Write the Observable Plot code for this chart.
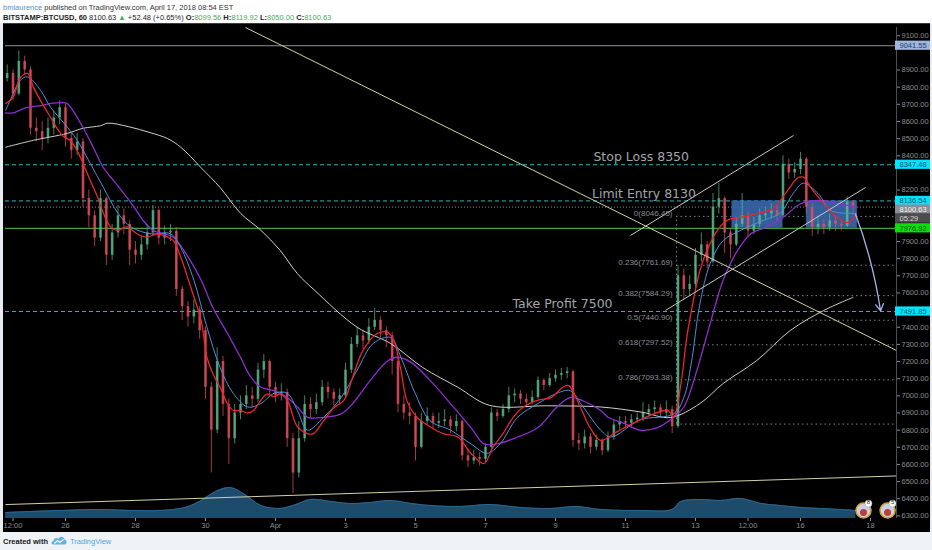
<!DOCTYPE html>
<html><head><meta charset="utf-8">
<script src="https://cdn.jsdelivr.net/npm/d3@7"></script>
<script src="https://cdn.jsdelivr.net/npm/@observablehq/plot@0.6"></script>
<style>
html,body{margin:0;padding:0;width:932px;height:550px;overflow:hidden;background:#f0f3f6;font-family:"Liberation Sans",Arial,sans-serif}
#header{position:relative;width:932px;height:23px;background:#fff}
.hl{position:absolute;left:3px;font-size:7.5px;color:#333;white-space:nowrap}
#h1{top:2.5px}
#h2{top:13px;color:#222}
.g{color:#3fae5a}
#chart{position:relative;width:932px;height:509px;background:#000;border-top:1px solid #3a3d44;box-sizing:border-box;overflow:hidden}
#chart svg{display:block;max-width:none}
#vol{position:absolute;left:0;top:0;width:932px;height:508px;z-index:0}
#main{position:absolute;left:0;top:0;width:932px;height:508px;z-index:1}
#edgeL{position:absolute;left:0;top:23px;width:3px;height:509px;background:#e8ebf0;z-index:5}
#edgeR{position:absolute;left:930px;top:23px;width:2px;height:509px;background:#e8ebf0;z-index:5}
#footer{position:relative;width:932px;height:18px;background:#f0f3f6}
#footer .c{position:absolute;left:3px;top:4.5px;font-size:7.5px;font-weight:bold;color:#131722}
#footer .t{position:absolute;left:70px;top:4.5px;font-size:7.5px;color:#4aa3df}
#footer .logo{position:absolute;left:51px;top:3px}
</style></head>
<body>
<div id="header"><div id="h1" class="hl"></div><div id="h2" class="hl"></div></div>
<div id="chart"><div id="vol"></div><div id="main"></div></div>
<div id="edgeL"></div><div id="edgeR"></div>
<div id="footer"><span class="c">Created with</span>
<svg class="logo" width="17" height="11" viewBox="0 0 17 11"><path d="M2 9.5 C0 9.5 0 6 2.5 6 C2.5 3 6 2 7.5 4 C8.5 1 13 1 13.5 4.5 C16 4.5 16.5 9.5 13.5 9.5 Z" fill="#5db3e6"/><path d="M3.5 8.5 L6.5 5.5 L9 7.5 L12.5 4.5" stroke="#fff" stroke-width="1.1" fill="none"/></svg>
<span class="t">TradingView</span></div>
<script>
// ---------- header values ----------
const author = "bmlaurence";
const publishedText = " published on TradingView.com, April 17, 2018 08:54 EST";
const symbolText = "BITSTAMP:BTCUSD, 60";
const lastPrice = 8100.63;
const changeText = "+52.48 (+0.65%)";
const ohlcLabels = ["O", "H", "L", "C"];
const ohlcValues = [8099.56, 8119.92, 8050.00, 8100.63];

// ---------- time: hours since Mar 26 00:00 ----------
const xDomain = [-41.14, 569.83];
const candleStartHour = -40;   // Mar 24 08:00, 4h candles
const candleStep = 4;
const firstOpen = 8850;
const closes = [
  8880, 8760, 8950, 8900, 8560, 8540, 8500, 8560, 8620, 8680,
  8500, 8430, 8480, 8150, 8050, 7920, 8150, 7820, 7950, 8050,
  8000, 7850, 7820, 7880, 7950, 8080, 7920, 7950, 7960, 7620,
  7520, 7460, 7500, 7380, 7050, 6800, 7200, 6950, 6750, 6900,
  6950, 7000, 6980, 7150, 7200, 7050, 7000, 7020, 6750, 6550,
  6750, 6950, 6920, 6960, 7050, 7020, 6980, 7000, 7150, 7300,
  7350, 7320, 7400, 7440, 7380, 7350, 7200, 6950, 6900, 6880,
  6700, 6850, 6880, 6840, 6850, 6860, 6820, 6850, 6650, 6620,
  6640, 6630, 6700, 6900, 6880, 6920, 7000, 7010, 6980, 6960,
  6990, 7090, 7060, 7100, 7120, 7130, 7140, 6740, 6720, 6760,
  6700, 6740, 6680, 6760, 6830, 6850, 6840, 6860, 6870, 6900,
  6920, 6930, 6900, 6920, 6820, 7700, 7620, 7650, 7820, 7880,
  7780, 8100, 8150, 7950, 7880, 8000, 8050, 7960, 8000, 8050,
  8060, 8080, 8050, 8350, 8300, 8320, 8380, 8100, 7980, 8000,
  7980, 8020, 8000, 7990, 8130, 8100];
const highs = [
  8930, 8900, 9010, 8980, 8920, 8620, 8600, 8620, 8660, 8720,
  8700, 8530, 8530, 8500, 8200, 8080, 8200, 8160, 8000, 8110,
  8090, 8020, 7900, 7930, 8000, 8110, 8090, 7990, 8000, 7980,
  7640, 7550, 7560, 7520, 7400, 7080, 7280, 7230, 6980, 6950,
  7000, 7060, 7050, 7190, 7240, 7210, 7080, 7070, 7040, 6780,
  6850, 7000, 6990, 7010, 7090, 7080, 7040, 7040, 7190, 7340,
  7400, 7380, 7450, 7510, 7460, 7400, 7370, 7220, 7000, 6960,
  6900, 6900, 6930, 6900, 6900, 6920, 6880, 6890, 6860, 6690,
  6680, 6670, 6720, 6930, 6920, 6950, 7050, 7040, 7030, 7010,
  7030, 7110, 7100, 7130, 7150, 7160, 7165, 7150, 6780, 6800,
  6780, 6770, 6750, 6790, 6860, 6880, 6880, 6890, 6900, 6960,
  6950, 6970, 6950, 6970, 6940, 7760, 7740, 7700, 7860, 7950,
  7900, 8180, 8240, 8160, 7970, 8040, 8180, 8070, 8040, 8090,
  8100, 8120, 8110, 8400, 8380, 8360, 8420, 8390, 8120, 8050,
  8030, 8060, 8050, 8030, 8160, 8140];
const lows = [
  8830, 8720, 8750, 8870, 8520, 8480, 8430, 8470, 8520, 8580,
  8450, 8380, 8400, 8100, 7980, 7870, 7900, 7760, 7790, 7920,
  7940, 7760, 7770, 7790, 7850, 7930, 7880, 7880, 7900, 7580,
  7440, 7400, 7420, 7330, 6980, 6550, 6780, 6880, 6600, 6720,
  6860, 6920, 6930, 6960, 7100, 7000, 6960, 6970, 6700, 6430,
  6520, 6730, 6870, 6890, 6940, 6980, 6940, 6950, 6990, 7130,
  7280, 7270, 7300, 7380, 7340, 7280, 7120, 6900, 6860, 6830,
  6620, 6690, 6830, 6800, 6810, 6820, 6780, 6790, 6620, 6580,
  6600, 6590, 6610, 6690, 6850, 6870, 6900, 6960, 6950, 6930,
  6950, 6980, 7030, 7050, 7080, 7090, 7100, 6700, 6680, 6690,
  6660, 6680, 6650, 6670, 6740, 6800, 6810, 6820, 6840, 6850,
  6880, 6890, 6870, 6880, 6780, 6810, 7560, 7580, 7630, 7780,
  7740, 7770, 8060, 7830, 7800, 7870, 7980, 7920, 7940, 7980,
  8020, 8030, 8010, 8040, 8260, 8270, 8290, 8060, 7930, 7940,
  7940, 7960, 7960, 7960, 7980, 8050];

// moving averages: [hour, price]
const maRed = [[-41,8705],[-36,8740],[-31,8855],[-26,8880],[-22,8800],[-17,8720],[-10,8620],[-5,8550],[-1,8510],[3,8490],[8,8430],[12,8355],[17,8255],[22,8160],[26,8065],[31,7985],[36,7965],[42,7985],[49,7945],[56,7925],[63,7945],[70,7925],[74,7905],[79,7810],[86,7630],[93,7440],[97,7225],[101,7130],[106,7050],[111,6955],[115,6915],[120,6915],[125,6900],[129,6915],[134,6975],[138,7010],[143,6995],[147,7010],[152,6975],[159,6820],[166,6780],[170,6780],[177,6855],[184,6930],[191,6975],[197,7110],[204,7265],[214,7365],[221,7370],[225,7325],[230,7150],[234,6975],[241,6875],[250,6820],[259,6780],[269,6760],[278,6665],[287,6605],[293,6700],[300,6780],[307,6875],[314,6935],[324,6975],[333,6990],[341,7050],[345,7060],[353,6935],[360,6810],[367,6740],[378,6790],[394,6860],[413,6915],[417,6875],[422,7070],[426,7340],[431,7575],[435,7730],[440,7850],[447,7965],[454,8025],[463,8040],[475,8065],[485,8090],[495,8195],[502,8270],[506,8275],[511,8215],[520,8120],[529,8040],[536,8010],[542,8050]];
const maBlue = [[-41,8665],[-36,8760],[-31,8840],[-26,8860],[-17,8780],[-10,8680],[-1,8590],[8,8490],[17,8355],[26,8215],[36,8065],[45,7985],[58,7945],[72,7945],[79,7865],[88,7675],[97,7400],[106,7165],[115,7015],[125,6935],[134,6955],[143,7015],[152,7015],[159,6915],[166,6800],[177,6875],[189,6990],[200,7150],[211,7305],[223,7340],[230,7225],[239,7030],[250,6855],[264,6800],[278,6720],[289,6665],[298,6720],[310,6875],[324,6955],[337,7015],[346,7030],[355,6935],[367,6800],[374,6760],[394,6860],[417,6895],[424,6990],[429,7185],[435,7535],[442,7770],[451,7905],[463,7965],[479,8025],[490,8065],[499,8180],[506,8240],[516,8180],[525,8080],[542,8065]];
const maPurple = [[-41,8650],[-36,8650],[-27,8680],[-17,8692],[-10,8705],[-3,8710],[1,8705],[5,8665],[12,8565],[19,8450],[26,8330],[33,8255],[40,8180],[47,8100],[53,8025],[60,7965],[67,7945],[74,7925],[84,7810],[93,7675],[101,7515],[111,7365],[120,7225],[127,7110],[134,7050],[143,7030],[152,6990],[159,6935],[166,6875],[177,6875],[189,6895],[197,6955],[209,7090],[221,7205],[228,7225],[237,7195],[250,7090],[264,6955],[278,6815],[287,6720],[296,6720],[310,6760],[324,6815],[337,6935],[346,6990],[355,6970],[367,6915],[372,6875],[383,6840],[394,6800],[406,6815],[417,6875],[424,6935],[433,7150],[442,7420],[451,7675],[461,7850],[470,7945],[481,7985],[492,8040],[504,8120],[516,8140],[525,8130],[542,8100]];
const maWhite = [[-41,8450],[-22,8490],[1,8530],[12,8560],[24,8575],[29,8590],[43,8570],[58,8535],[70,8500],[79,8450],[93,8330],[106,8215],[120,8065],[134,7965],[147,7850],[159,7713],[171,7614],[200,7400],[223,7305],[245,7165],[269,7050],[291,6944],[330,6942],[367,6935],[395,6905],[415,6874],[435,6955],[451,7072],[474,7206],[497,7381],[520,7498],[540,7574]];

// volume (relative units)
const volumeHours = [-41,-24,-3,24,45,65,82,93,103,113,123,134,147,158,168,182,195,209,223,237,250,271,291,312,333,350,367,394,416,422,435,449,463,477,490,504,518,531,542];
const volumeValues = [6,7,8,9,8,8,11,18,27,31,24,13,10,14,19,17,15,16,18,15,13,12,14,11,10,12,9,8,9,17,19,18,20,15,13,11,10,9,8];

// horizontal levels
const highLine = 9041.55;
const stopLoss = 8347.48;
const limitEntry = 8136.54;
const supportLine = 7976.92;
const takeProfit = 7491.85;
const countdown = "05:29";

// fibonacci retracement
const fibStartHour = 419;
const fibPrices = [8046.45, 7761.69, 7584.29, 7440.90, 7297.52, 7093.38, 6835.35];
const fibLabels = ["0(8046.45)", "0.236(7761.69)", "0.382(7584.29)", "0.5(7440.90)", "0.618(7297.52)", "0.786(7093.38)", ""];

// zones (hour start, hour end)
const zoneStarts = [457, 508];
const zoneEnds = [492, 543];

// drawn trend lines [h1, p1, h2, p2, colour]
const trendLines = [
  [123.4, 9148, 569.8, 7264.5, "#d6cfa8"],
  [387.4, 7935, 499.2, 8518, "#c9c9c9"],
  [411.4, 7498, 548.6, 8215, "#c9c9c9"],
  [-41.1, 6366, 569.8, 6533, "#d6cfa8"]
];
const arrowLine = [541.7, 8060, 558.9, 7495];

// annotations
const noteTexts = ["Stop Loss 8350", "Limit Entry 8130", "Take Profit 7500"];
const noteHours = [362, 361, 306.5];
const notePrices = [8372, 8156, 7515];

// axis ticks
const xTickHours = [-36, 0, 48, 96, 144, 192, 240, 288, 336, 384, 432, 468, 504, 552];
const xTickLabels = ["12:00","26","28","30","Apr","3","5","7","9","11","13","12:00","16","18"];
const yTicks = d3.range(6300, 9101, 100);

// events (economic calendar markers)
const eventHours = [547.2, 563.7];
const eventCounts = ["8", "5"];

// ---------- header ----------
document.getElementById("h1").innerHTML = `<span style="color:#4b95d6">${author}</span>${publishedText}`;
document.getElementById("h2").innerHTML = `<b>${symbolText}</b> ${lastPrice.toFixed(2)} <span class="g">▲</span> ${changeText} ` +
  ohlcLabels.map((l, i) => `<b>${l}:</b><span class="g">${ohlcValues[i].toFixed(2)}</span>`).join(" ");

// ---------- build data ----------
const candles = closes.map((c, i) => ({
  h: candleStartHour + candleStep * i,
  o: i === 0 ? firstOpen : closes[i - 1],
  c, hi: highs[i], lo: lows[i]
}));
const volume = volumeHours.map((h, i) => ({h, v: volumeValues[i]}));
const fib = fibPrices.map((p, i) => ({p, label: fibLabels[i]}));
const zones = zoneStarts.map((s, i) => ({h1: s, h2: zoneEnds[i], p1: supportLine, p2: limitEntry}));
const links = trendLines.map(d => ({h1: d[0], p1: d[1], h2: d[2], p2: d[3], color: d[4]}));
const notes = noteTexts.map((t, i) => ({t, h: noteHours[i], p: notePrices[i]}));
const events = eventHours.map((h, i) => ({h, n: eventCounts[i]}));
const xLabel = new Map(xTickHours.map((h, i) => [h, xTickLabels[i]]));

const W = 932, HT = 508, mB = 14, mT = 3, mL = 5, mR = 36;
const yDomain = [6284.8, 9147.8];
const up = "#5cb88c", down = "#e4505c";
const cyan = "#2bb6c4";
const xEnd = () => xDomain[1];

// tags on the price axis
const tags = [
  {p: highLine, label: highLine.toFixed(2), bg: "#9fb5dc", fg: "#1d3d73", dy: 0},
  {p: stopLoss, label: stopLoss.toFixed(2), bg: "#00e5ff", fg: "#0b5360", dy: 0},
  {p: limitEntry, label: limitEntry.toFixed(2), bg: "#00e5ff", fg: "#0b5360", dy: 0},
  {p: lastPrice, label: lastPrice.toFixed(2), bg: "#8b8f93", fg: "#f0f0f0", dy: 2.5},
  {p: lastPrice, label: countdown, bg: "#4a4d52", fg: "#d8d8d8", dy: 11.5},
  {p: supportLine, label: supportLine.toFixed(2), bg: "#00e600", fg: "#0d4d0d", dy: 0},
  {p: takeProfit, label: takeProfit.toFixed(2), bg: "#00e5ff", fg: "#0b5360", dy: 0}
];
// tick labels hidden under a tag (≈ 9 px band)
const pxPerUnit = (HT - mT - mB) / (yDomain[1] - yDomain[0]);
const visibleTicks = yTicks.filter(t => !tags.some(g => Math.abs((t - g.p) * pxPerUnit + g.dy) < 8.5));

const tagMarks = tags.flatMap(t => [
  Plot.rect([t], {x1: xEnd, x2: xEnd, y1: "p", y2: "p", insetLeft: -1, insetRight: -34, insetTop: -4.6, insetBottom: -4.6, fill: t.bg, dy: t.dy}),
  Plot.text([t], {x: xEnd, y: "p", text: "label", textAnchor: "start", dx: 3, dy: t.dy, fill: t.fg, fontSize: 7.5})
]);

// ---------- volume pane ----------
const volPlot = Plot.plot({
  width: W, height: HT, marginLeft: mL, marginRight: mR, marginBottom: mB, marginTop: HT - mB - 100,
  x: {domain: xDomain, axis: null}, y: {domain: [0, 100], axis: null},
  style: {background: "transparent"},
  marks: [
    Plot.areaY(volume, {x: "h", y: "v", fill: "#1d4b6c", curve: "catmull-rom"}),
    Plot.lineY(volume, {x: "h", y: "v", stroke: "#2a6790", strokeWidth: 1, curve: "catmull-rom"})
  ]
});
document.getElementById("vol").appendChild(volPlot);

// ---------- main price pane ----------
const mainPlot = Plot.plot({
  width: W, height: HT, marginLeft: mL, marginRight: mR, marginTop: mT, marginBottom: mB,
  x: {domain: xDomain, label: null},
  y: {domain: yDomain, label: null},
  style: {background: "transparent", color: "#8a8d93", fontFamily: "Liberation Sans, Arial, sans-serif", fontSize: "7.5px"},
  marks: [
    Plot.ruleY([highLine], {stroke: "#8d9096", strokeWidth: 1}),
    Plot.ruleY([supportLine], {stroke: "#3fa13f", strokeWidth: 1.2}),
    Plot.ruleY([lastPrice], {stroke: "#8d9096", strokeDasharray: "1,2"}),
    Plot.ruleY([stopLoss, limitEntry, takeProfit], {stroke: cyan, strokeDasharray: "4,3", strokeWidth: 1}),
    Plot.ruleY(fib, {y: "p", x1: () => fibStartHour, x2: xEnd, stroke: "#7d8087", strokeDasharray: "1.5,3"}),
    Plot.ruleX([fibStartHour], {y1: fibPrices[fibPrices.length - 1], y2: fibPrices[0], stroke: "#7d8087", strokeDasharray: "1.5,3"}),
    Plot.rect(zones, {x1: "h1", x2: "h2", y1: "p1", y2: "p2", fill: "#3a67ad", fillOpacity: 0.9}),
    Plot.ruleX(candles, {x: "h", y1: "lo", y2: "hi", stroke: d => d.c >= d.o ? up : down, strokeWidth: 0.9, strokeOpacity: 0.8}),
    Plot.ruleX(candles, {x: "h", y1: "o", y2: d => Math.abs(d.c - d.o) < 8 ? d.o + 8 : d.c, stroke: d => d.c >= d.o ? up : down, strokeWidth: 2.6, strokeOpacity: 0.8}),
    Plot.line(maWhite, {x: d => d[0], y: d => d[1], stroke: "#cfcfcf", strokeWidth: 1, curve: "catmull-rom"}),
    Plot.line(maPurple, {x: d => d[0], y: d => d[1], stroke: "#8e2fd0", strokeWidth: 1.3, curve: "catmull-rom"}),
    Plot.line(maBlue, {x: d => d[0], y: d => d[1], stroke: "#4f8fd8", strokeWidth: 1, curve: "catmull-rom"}),
    Plot.line(maRed, {x: d => d[0], y: d => d[1], stroke: "#e8262d", strokeWidth: 1.3, curve: "catmull-rom"}),
    Plot.link(links, {x1: "h1", y1: "p1", x2: "h2", y2: "p2", stroke: "color", strokeWidth: 1}),
    Plot.arrow([arrowLine], {x1: d => d[0], y1: d => d[1], x2: d => d[2], y2: d => d[3], stroke: "#9fb8ea", strokeWidth: 1.3, headLength: 9, bend: 6}),
    Plot.text(fib.filter(d => d.label), {x: () => fibStartHour, y: "p", text: "label", textAnchor: "end", lineAnchor: "bottom", dx: -4, fill: "#8c8f96", fontSize: 8}),
    Plot.text(notes, {x: "h", y: "p", text: "t", textAnchor: "start", lineAnchor: "bottom", fill: "#a2a5ac", fontSize: 12.5, fontFamily: "DejaVu Sans"}),
    Plot.dot(events, {x: "h", frameAnchor: "bottom", dy: -8, r: 7.5, fill: "#c9d0e6", stroke: "#d6a21e", strokeWidth: 1.5}),
    Plot.dot(events, {x: "h", frameAnchor: "bottom", dy: -6, r: 3.5, fill: "#c23b3b"}),
    Plot.dot(events, {x: "h", frameAnchor: "bottom", dx: 5, dy: -15, r: 3.5, fill: "#fff", stroke: "#999", strokeWidth: 0.5}),
    Plot.text(events, {x: "h", frameAnchor: "bottom", dx: 5, dy: -15, text: "n", fill: "#222", fontSize: 6}),
    Plot.ruleX([xDomain[1]], {stroke: "#4b4e55"}),
    Plot.axisY(visibleTicks, {anchor: "right", tickFormat: d3.format(".2f"), tickSize: 3, tickPadding: 2, label: null, fontSize: 7.5}),
    Plot.axisX(xTickHours, {anchor: "bottom", tickFormat: d => xLabel.get(d), tickSize: 3, tickPadding: 1, label: null, fontSize: 7.5}),
    ...tagMarks
  ]
});
document.getElementById("main").appendChild(mainPlot);
</script>
</body></html>
